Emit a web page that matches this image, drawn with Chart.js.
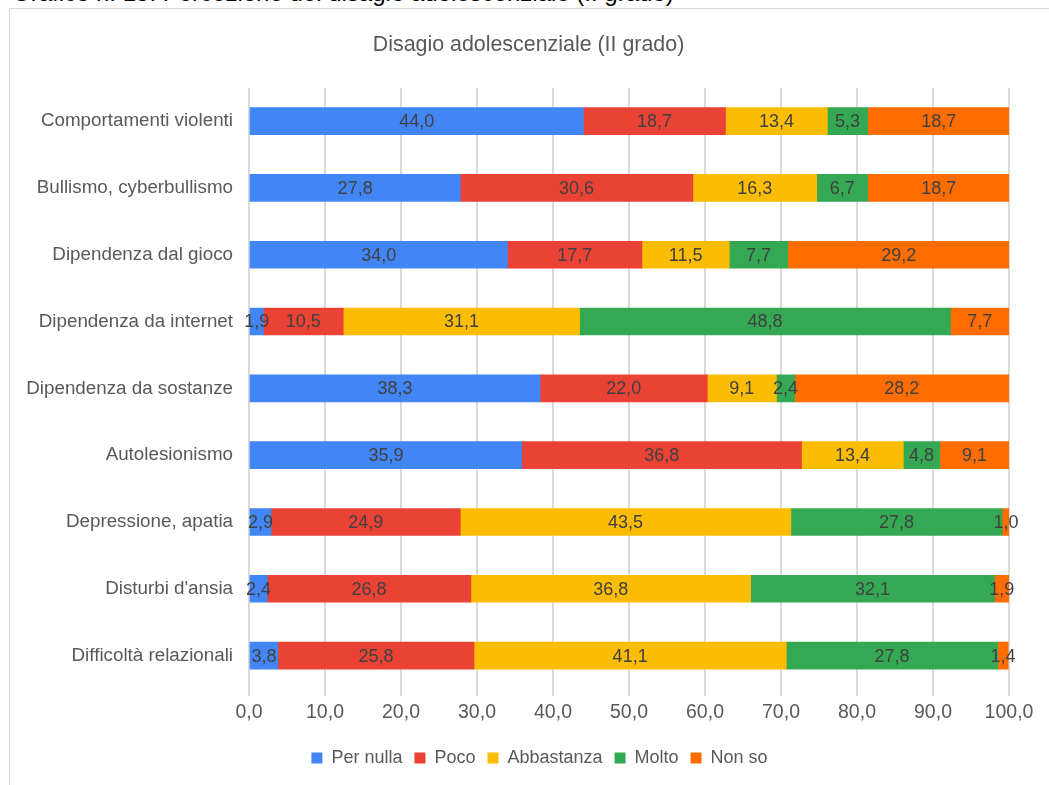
<!DOCTYPE html>
<html>
<head>
<meta charset="utf-8">
<script src="https://cdn.jsdelivr.net/npm/chart.js@4.4.0/dist/chart.umd.min.js"></script>
<style>
  html, body { margin: 0; padding: 0; background: #fff; overflow: hidden; }
  #caption {
    position: absolute; left: 12px; top: -21px; line-height: 24px;
    font: 24px "Liberation Sans", Arial, sans-serif; color: #000; white-space: nowrap;
  }
  #frame {
    position: absolute; left: 9px; top: 8px; width: 1060px; height: 800px;
    border: 1px solid #d9d9d9; background: #fff;
  }
  #wrap { position: absolute; left: 0; top: 0; width: 1049px; height: 785px; }
</style>
</head>
<body>
<div id="caption">Grafico n. 15: Percezione del disagio adolescenziale (II grado)</div>
<div id="frame"></div>
<div id="wrap"><canvas id="chart"></canvas></div>
<script>
// categories (top to bottom)
const categories = [
    'Comportamenti violenti',
    'Bullismo, cyberbullismo',
    'Dipendenza dal gioco',
    'Dipendenza da internet',
    'Dipendenza da sostanze',
    'Autolesionismo',
    'Depressione, apatia',
    "Disturbi d'ansia",
    'Difficoltà relazionali'
];

// series values (%)
const perNulla   = [44.0, 27.8, 34.0,  1.9, 38.3, 35.9,  2.9,  2.4,  3.8];
const poco       = [18.7, 30.6, 17.7, 10.5, 22.0, 36.8, 24.9, 26.8, 25.8];
const abbastanza = [13.4, 16.3, 11.5, 31.1,  9.1, 13.4, 43.5, 36.8, 41.1];
const molto      = [ 5.3,  6.7,  7.7, 48.8,  2.4,  4.8, 27.8, 32.1, 27.8];
const nonSo      = [18.7, 18.7, 29.2,  7.7, 28.2,  9.1,  1.0,  1.9,  1.4];

const seriesNames  = ['Per nulla', 'Poco', 'Abbastanza', 'Molto', 'Non so'];
const seriesColors = ['#4285F4', '#EA4335', '#FBBC04', '#34A853', '#FF6D01'];

const chartTitle = 'Disagio adolescenziale (II grado)';
const xMin = 0, xMax = 100, xStep = 10;

const fmt = v => v.toFixed(1).replace('.', ',');
const FONT = '"Liberation Sans", Arial, sans-serif';

// draws the value in the middle of every segment
const segmentLabels = {
    id: 'segmentLabels',
    afterDatasetsDraw(chart) {
        const ctx = chart.ctx;
        ctx.save();
        ctx.font = '18px ' + FONT;
        ctx.fillStyle = '#404040';
        ctx.textAlign = 'center';
        ctx.textBaseline = 'middle';
        chart.data.datasets.forEach((ds, i) => {
            chart.getDatasetMeta(i).data.forEach((bar, j) => {
                const cx = (bar.x + bar.base) / 2;
                ctx.fillText(fmt(ds.data[j]), cx, bar.y + 1);
            });
        });
        ctx.restore();
    }
};

// title and legend are centred a bit to the right, like in the original
const shiftBlocks = {
    id: 'shiftBlocks',
    afterLayout(chart) {
        if (chart.titleBlock) chart.titleBlock.left = 48;
        if (chart.legend) chart.legend.left = 70;
    }
};

const datasets = [perNulla, poco, abbastanza, molto, nonSo].map((data, i) => ({
    label: seriesNames[i],
    data: data,
    backgroundColor: seriesColors[i],
    borderWidth: 0,
    barThickness: 27
}));

new Chart(document.getElementById('chart'), {
    type: 'bar',
    data: { labels: categories, datasets: datasets },
    options: {
        indexAxis: 'y',
        responsive: true,
        maintainAspectRatio: false,
        animation: false,
        layout: { padding: { left: 0, right: 40, top: 0, bottom: 8 } },
        scales: {
            x: {
                stacked: true,
                min: xMin,
                max: xMax,
                ticks: {
                    stepSize: xStep,
                    color: '#595959',
                    font: { family: FONT, size: 19.5 },
                    padding: 5,
                    callback: v => fmt(v)
                },
                grid: { color: '#d9d9d9', lineWidth: 2, tickLength: 7 },
                border: { display: false },
                afterFit: s => { s.height = 48; }
            },
            y: {
                stacked: true,
                ticks: {
                    color: '#595959',
                    font: { family: FONT, size: 18.8 },
                    padding: 16
                },
                grid: { display: false, drawTicks: false },
                border: { display: false },
                afterFit: s => { s.width = 249; }
            }
        },
        plugins: {
            title: {
                display: true,
                text: chartTitle,
                color: '#595959',
                font: { family: FONT, size: 21.4, weight: 'normal' },
                padding: { top: 32, bottom: 30 }
            },
            legend: {
                position: 'bottom',
                labels: {
                    color: '#595959',
                    font: { family: FONT, size: 18 },
                    boxWidth: 11,
                    boxHeight: 11,
                    padding: 12
                }
            },
            tooltip: { enabled: false }
        }
    },
    plugins: [segmentLabels, shiftBlocks]
});
</script>
</body>
</html>
